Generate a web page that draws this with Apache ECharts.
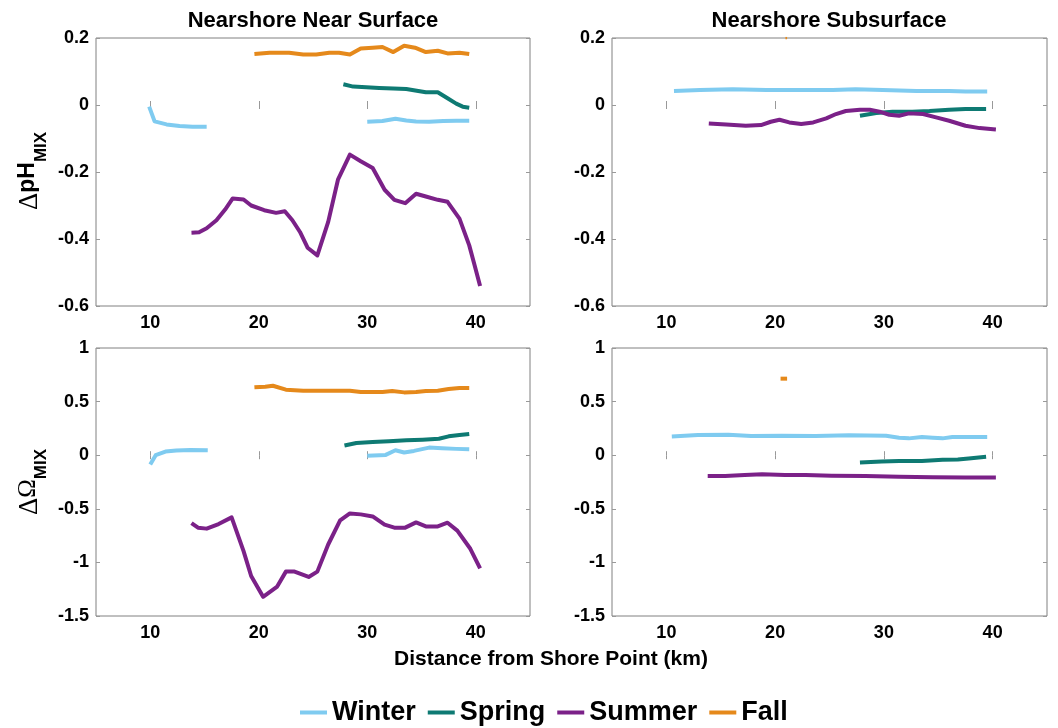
<!DOCTYPE html>
<html>
<head>
<meta charset="utf-8">
<script src="https://cdn.jsdelivr.net/npm/echarts@6/dist/echarts.min.js"></script>
<style>
html,body{margin:0;padding:0;background:#fff;}
#chart{width:1058px;height:728px;}
</style>
</head>
<body>
<div id="chart"></div>
<script>
// ---- tick labels / axis ranges ----
const xTickValues = [10, 20, 30, 40];
const panelTitles = ['Nearshore Near Surface', 'Nearshore Subsurface'];
const seasons = ['Winter', 'Spring', 'Summer', 'Fall'];
const xAxisTitle = 'Distance from Shore Point (km)';

// ---- ΔpH_MIX, Nearshore Near Surface ----
const phSurfWinterA = [[9.9,-0.005],[10.4,-0.049],[11.5,-0.058],[12.7,-0.063],[13.9,-0.065],[15.2,-0.065]];
const phSurfWinterB = [[30.0,-0.050],[31.4,-0.048],[32.6,-0.041],[33.6,-0.046],[34.5,-0.049],[35.7,-0.050],[37.0,-0.048],[38.2,-0.047],[39.4,-0.047]];
const phSurfSpring = [[27.8,0.062],[28.7,0.055],[29.9,0.053],[31.1,0.051],[32.4,0.049],[33.6,0.048],[34.7,0.042],[35.4,0.038],[36.5,0.038],[37.4,0.020],[38.2,0.004],[38.8,-0.005],[39.4,-0.008]];
const phSurfSummer = [[13.8,-0.381],[14.5,-0.380],[15.2,-0.368],[16.1,-0.344],[16.9,-0.312],[17.6,-0.279],[18.6,-0.282],[19.3,-0.300],[20.5,-0.314],[21.6,-0.322],[22.4,-0.317],[23.1,-0.344],[23.8,-0.379],[24.5,-0.426],[25.4,-0.449],[26.4,-0.349],[27.3,-0.223],[28.4,-0.148],[29.4,-0.168],[30.5,-0.188],[31.6,-0.253],[32.5,-0.283],[33.5,-0.293],[34.5,-0.265],[35.4,-0.273],[36.5,-0.283],[37.4,-0.289],[38.5,-0.339],[39.4,-0.419],[39.9,-0.479],[40.4,-0.540]];
const phSurfFall = [[19.6,0.152],[21.0,0.156],[22.8,0.156],[24.1,0.151],[25.3,0.151],[26.5,0.156],[27.4,0.156],[28.4,0.151],[29.4,0.169],[30.5,0.171],[31.4,0.173],[32.4,0.158],[33.4,0.177],[34.4,0.171],[35.4,0.158],[36.5,0.162],[37.4,0.154],[38.5,0.156],[39.4,0.152]];

// ---- ΔpH_MIX, Nearshore Subsurface ----
const phSubWinter = [[10.7,0.042],[13.1,0.045],[16.1,0.047],[19.2,0.045],[22.2,0.045],[25.3,0.045],[27.4,0.047],[29.9,0.045],[33.0,0.042],[36.0,0.042],[37.5,0.040],[39.5,0.040]];
const phSubSpring = [[27.8,-0.032],[29.3,-0.024],[30.8,-0.020],[32.6,-0.020],[34.2,-0.018],[36.0,-0.014],[37.5,-0.012],[39.4,-0.012]];
const phSubSummer = [[13.9,-0.055],[15.5,-0.058],[17.3,-0.062],[18.7,-0.060],[19.6,-0.050],[20.4,-0.044],[21.3,-0.052],[22.4,-0.057],[23.5,-0.052],[24.7,-0.040],[25.6,-0.027],[26.5,-0.018],[27.8,-0.014],[28.7,-0.014],[29.6,-0.020],[30.5,-0.029],[31.4,-0.032],[32.3,-0.025],[33.6,-0.027],[34.8,-0.037],[36.0,-0.047],[37.5,-0.062],[38.8,-0.069],[40.3,-0.073]];
const phSubFall = [[20.95,0.2],[21.1,0.2]];

// ---- ΔΩ_MIX, Nearshore Near Surface ----
const omSurfWinterA = [[10.0,-0.086],[10.5,0.0],[11.4,0.034],[12.4,0.043],[13.7,0.049],[15.3,0.046]];
const omSurfWinterB = [[30.0,-0.006],[31.7,0.003],[32.6,0.046],[33.4,0.025],[34.3,0.040],[35.7,0.071],[36.9,0.065],[38.2,0.059],[39.4,0.056]];
const omSurfSpring = [[27.9,0.090],[29.0,0.114],[30.5,0.123],[32.0,0.130],[33.6,0.139],[35.1,0.145],[36.6,0.154],[37.5,0.176],[38.5,0.188],[39.4,0.198]];
const omSurfSummer = [[13.8,-0.633],[14.4,-0.676],[15.2,-0.685],[16.3,-0.642],[17.5,-0.580],[18.6,-0.895],[19.3,-1.127],[20.4,-1.321],[21.7,-1.225],[22.5,-1.086],[23.3,-1.086],[24.6,-1.136],[25.4,-1.086],[26.4,-0.833],[27.5,-0.608],[28.4,-0.543],[29.4,-0.552],[30.5,-0.571],[31.6,-0.648],[32.5,-0.676],[33.5,-0.676],[34.5,-0.627],[35.4,-0.664],[36.5,-0.664],[37.4,-0.630],[38.3,-0.704],[39.5,-0.873],[40.4,-1.056]];
const omSurfFall = [[19.6,0.633],[20.6,0.639],[21.3,0.648],[22.5,0.611],[24.1,0.602],[25.9,0.602],[28.4,0.602],[29.4,0.590],[31.4,0.590],[32.3,0.599],[33.4,0.586],[34.5,0.590],[35.4,0.599],[36.5,0.602],[37.5,0.617],[38.5,0.627],[39.4,0.627]];

// ---- ΔΩ_MIX, Nearshore Subsurface ----
const omSubWinter = [[10.5,0.175],[12.9,0.188],[15.7,0.191],[17.8,0.178],[20.6,0.182],[23.7,0.178],[26.8,0.185],[30.2,0.182],[31.4,0.163],[32.3,0.157],[33.5,0.169],[34.5,0.163],[35.4,0.157],[36.3,0.169],[37.5,0.169],[39.5,0.169]];
const omSubSpring = [[27.8,-0.068],[29.8,-0.058],[31.4,-0.055],[33.5,-0.055],[35.4,-0.043],[36.8,-0.040],[37.8,-0.031],[39.4,-0.015]];
const omSubSummer = [[13.8,-0.194],[15.4,-0.194],[17.2,-0.185],[18.8,-0.178],[20.9,-0.185],[22.8,-0.185],[25.2,-0.191],[28.3,-0.194],[31.4,-0.200],[34.5,-0.206],[37.5,-0.209],[40.3,-0.209]];
const omSubFall = [[20.5,0.714],[21.1,0.714]];

const seasonColors = {Winter:'#7fcbf0', Spring:'#0e7a73', Summer:'#7b2188', Fall:'#e5891b'};

const FONT = "'Liberation Sans', Arial, Helvetica, sans-serif";
const SERIF = "'Liberation Serif', 'DejaVu Serif', serif";

const grids = [
  {left:96, top:38, width:434, height:268},
  {left:612, top:38, width:435, height:268},
  {left:96, top:348, width:434, height:268},
  {left:612, top:348, width:435, height:268}
].map(g => Object.assign({show:true, borderColor:'#808080', borderWidth:1, backgroundColor:'#fff'}, g));

const yRanges = [
  {min:-0.6, max:0.2, interval:0.2},
  {min:-0.6, max:0.2, interval:0.2},
  {min:-1.5, max:1, interval:0.5},
  {min:-1.5, max:1, interval:0.5}
];

const xAxes = [], yAxes = [];
for (let i = 0; i < 4; i++) {
  xAxes.push({
    type:'value', gridIndex:i, position:'bottom', min:5, max:45,
    axisLine:{show:false},
    axisTick:{show:true, inside:true, length:4, customValues:xTickValues, lineStyle:{color:'#999'}},
    axisLabel:{show:true, customValues:xTickValues, margin:8, color:'#000', fontSize:18, fontWeight:'bold', fontFamily:FONT},
    splitLine:{show:false}
  });
}
for (let i = 0; i < 4; i++) {
  xAxes.push({
    type:'value', gridIndex:i, position:'top', min:5, max:45,
    axisLine:{show:false},
    axisTick:{show:true, inside:true, length:4, customValues:xTickValues, lineStyle:{color:'#999'}},
    axisLabel:{show:false},
    splitLine:{show:false}
  });
}
for (let i = 0; i < 4; i++) {
  yAxes.push(Object.assign({
    type:'value', gridIndex:i, position:'left',
    axisLine:{show:false},
    axisTick:{show:true, inside:true, length:4, lineStyle:{color:'#999'}},
    axisLabel:{show:true, margin:7, color:'#000', fontSize:18, fontWeight:'bold', fontFamily:FONT},
    splitLine:{show:false}
  }, yRanges[i]));
}
for (let i = 0; i < 4; i++) {
  yAxes.push(Object.assign({
    type:'value', gridIndex:i, position:'right',
    axisLine:{show:false},
    axisTick:{show:true, inside:true, length:4, lineStyle:{color:'#999'}},
    axisLabel:{show:false},
    splitLine:{show:false}
  }, yRanges[i]));
}

function line(name, data, gi, width) {
  return {
    type:'line', name:name, data:data, xAxisIndex:gi, yAxisIndex:gi,
    symbol:'none', showSymbol:false, smooth:false, z:3,
    color:seasonColors[name],
    lineStyle:{width:width || 4, color:seasonColors[name], cap:'butt', join:'round'},
    itemStyle:{color:seasonColors[name]},
    emphasis:{disabled:true}
  };
}

const series = [
  line('Winter', phSurfWinterA, 0), line('Winter', phSurfWinterB, 0),
  line('Spring', phSurfSpring, 0), line('Summer', phSurfSummer, 0), line('Fall', phSurfFall, 0),
  line('Winter', phSubWinter, 1), line('Spring', phSubSpring, 1), line('Summer', phSubSummer, 1), line('Fall', phSubFall, 1, 2.5),
  line('Winter', omSurfWinterA, 2), line('Winter', omSurfWinterB, 2),
  line('Spring', omSurfSpring, 2), line('Summer', omSurfSummer, 2), line('Fall', omSurfFall, 2),
  line('Winter', omSubWinter, 3), line('Spring', omSubSpring, 3), line('Summer', omSubSummer, 3), line('Fall', omSubFall, 3)
];

function yName(mainToken, x, y) {
  return {
    type:'text', x:x, y:y, rotation:Math.PI/2, z:10,
    style:{
      text:'{d|Δ}' + mainToken + '{s|MIX}',
      align:'center', verticalAlign:'middle',
      rich:{
        d:{fontFamily:SERIF, fontSize:27, fontWeight:'normal', fill:'#000', lineHeight:24, verticalAlign:'top'},
        o:{fontFamily:SERIF, fontSize:25, fontWeight:'normal', fill:'#000', lineHeight:24, verticalAlign:'top'},
        p:{fontFamily:FONT, fontSize:23, fontWeight:'bold', fill:'#000', lineHeight:24, verticalAlign:'top'},
        s:{fontFamily:FONT, fontSize:17, fontWeight:'bold', fill:'#000', lineHeight:34, verticalAlign:'bottom'}
      }
    }
  };
}

const chart = echarts.init(document.getElementById('chart'), null, {renderer:'canvas'});
chart.setOption({
  animation:false,
  backgroundColor:'#fff',
  grid:grids,
  xAxis:xAxes,
  yAxis:yAxes,
  series:series,
  legend:{
    data:seasons, left:295, top:694, icon:'rect', itemWidth:27, itemHeight:4, itemGap:12,
    selectedMode:false,
    textStyle:{fontFamily:FONT, fontSize:27, fontWeight:'bold', color:'#000'}
  },
  graphic:[
    {type:'text', x:313, y:21, z:10, style:{text:panelTitles[0], align:'center', verticalAlign:'middle', fontFamily:FONT, fontSize:22, fontWeight:'bold', fill:'#000'}},
    {type:'text', x:829, y:21, z:10, style:{text:panelTitles[1], align:'center', verticalAlign:'middle', fontFamily:FONT, fontSize:22, fontWeight:'bold', fill:'#000'}},
    {type:'text', x:551, y:659, z:10, style:{text:xAxisTitle, align:'center', verticalAlign:'middle', fontFamily:FONT, fontSize:21, fontWeight:'bold', fill:'#000'}},
    yName('{p|pH}', 33, 171),
    yName('{o|Ω}', 33, 482)
  ]
});
</script>
</body>
</html>
